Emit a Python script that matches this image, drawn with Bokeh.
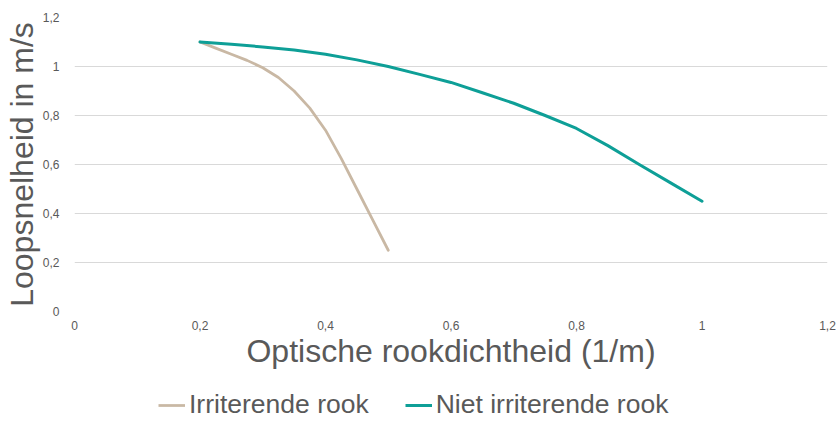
from bokeh.plotting import figure
from bokeh.layouts import column
from bokeh.models import Range1d, FixedTicker, CustomJSTickFormatter, Legend, LegendItem
from bokeh.embed import file_html
from bokeh.resources import INLINE

# Data
irr_x = [0.2, 0.225, 0.25, 0.275, 0.3, 0.325, 0.35, 0.375, 0.4, 0.425, 0.45, 0.475, 0.5]
irr_y = [1.10, 1.075, 1.05, 1.025, 0.995, 0.955, 0.90, 0.83, 0.74, 0.625, 0.50, 0.375, 0.25]

niet_x = [0.2, 0.25, 0.3, 0.35, 0.4, 0.45, 0.5, 0.55, 0.6, 0.65, 0.7, 0.75, 0.8, 0.85, 0.9, 0.95, 1.0]
niet_y = [1.10, 1.091, 1.08, 1.067, 1.05, 1.027, 1.0, 0.968, 0.935, 0.893, 0.85, 0.80, 0.747, 0.677, 0.60, 0.525, 0.45]

x_ticks = [0, 0.2, 0.4, 0.6, 0.8, 1.0, 1.2]
y_ticks = [0, 0.2, 0.4, 0.6, 0.8, 1.0, 1.2]

series_names = ["Irriterende rook", "Niet irriterende rook"]
x_title = "Optische rookdichtheid (1/m)"
y_title = "Loopsnelheid in m/s"

FONT = "Liberation Sans"
TXT = "#595959"
TAN = "#C9B8A4"
TEAL = "#0E9F97"

# ---- main chart ----
p = figure(width=837, height=385,
           x_range=Range1d(0, 1.2), y_range=Range1d(0, 1.2),
           output_backend="svg", toolbar_location=None,
           min_border_left=74, min_border_right=10,
           min_border_top=17, min_border_bottom=74)
p.outline_line_color = None
p.background_fill_color = "white"

p.line(irr_x, irr_y, line_color=TAN, line_width=2.75, line_join="round", line_cap="round")
p.line(niet_x, niet_y, line_color=TEAL, line_width=3, line_join="round", line_cap="round")

fmt = CustomJSTickFormatter(code="var s = (Math.round(tick*10)/10).toString(); return s.replace('.', ',');")

p.xaxis.ticker = FixedTicker(ticks=x_ticks)
p.yaxis.ticker = FixedTicker(ticks=y_ticks)
for ax in (p.xaxis[0], p.yaxis[0]):
    ax.formatter = fmt
    ax.axis_line_color = None
    ax.major_tick_line_color = None
    ax.minor_tick_line_color = None
    ax.major_label_text_font = FONT
    ax.major_label_text_font_size = "12px"
    ax.major_label_text_color = TXT
    ax.axis_label_text_font = FONT
    ax.axis_label_text_font_size = "32px"
    ax.axis_label_text_font_style = "normal"
    ax.axis_label_text_color = TXT
    ax.axis_label_standoff = 0

p.xaxis.major_label_standoff = 3
p.yaxis.major_label_standoff = 9

p.xaxis.axis_label = x_title
p.yaxis.axis_label = y_title

p.xgrid.grid_line_color = None
p.ygrid.grid_line_color = "#D9D9D9"
p.ygrid.grid_line_width = 1

# ---- legend strip (series lines lie outside its view; only the legend shows) ----
lg = figure(width=837, height=36, x_range=Range1d(5, 6), y_range=Range1d(5, 6),
            x_axis_type=None, y_axis_type=None,
            output_backend="svg", toolbar_location=None,
            min_border_left=0, min_border_right=0, min_border_top=0, min_border_bottom=0)
lg.outline_line_color = None
lg.xgrid.visible = False
lg.ygrid.visible = False
l1 = lg.line(irr_x, irr_y, line_color=TAN, line_width=2.75)
l2 = lg.line(niet_x, niet_y, line_color=TEAL, line_width=3)

legend = Legend(items=[LegendItem(label=series_names[0], renderers=[l1]),
                       LegendItem(label=series_names[1], renderers=[l2])],
                orientation="horizontal", location=(84, 1),
                border_line_color=None, background_fill_alpha=0,
                padding=0, margin=0, spacing=36, glyph_width=27, glyph_height=20,
                label_standoff=4, label_text_font=FONT, label_text_font_size="26.5px",
                label_text_color=TXT)
lg.add_layout(legend)

layout = column(p, lg, spacing=0)

open("out.html", "w").write(file_html(layout, INLINE))
